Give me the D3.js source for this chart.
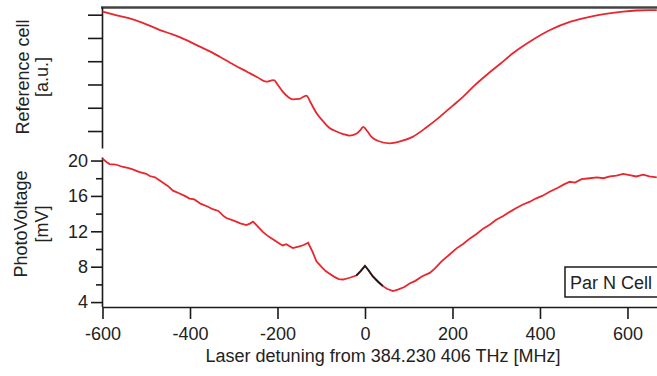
<!DOCTYPE html>
<html>
<head>
<meta charset="utf-8">
<script src="https://cdn.jsdelivr.net/npm/d3@7"></script>
<style>
  body { margin: 0; background: white; }
  text { font-family: "Liberation Sans", Arial, sans-serif; fill: #222; }
</style>
</head>
<body>
<div id="vis"></div>
<script>
// Data

// top panel: reference cell signal (arbitrary units)
const refX = [-600, -570, -540, -508, -470, -440, -417, -380, -350, -332, -300, -270, -245, -225, -215, -208,
    -200, -188, -175, -165, -150, -140, -134, -125, -111, -95, -81, -65, -50, -35, -20, -10, -4, 5, 15, 30,
    57, 80, 109, 140, 171, 200, 224, 250, 278, 310, 338, 380, 423, 470, 514, 550, 590, 620, 650, 667];
const refY = [5.13, 4.98, 4.85, 4.65, 4.35, 4.15, 3.98, 3.65, 3.38, 3.19, 2.85, 2.55, 2.3, 2.12, 2.17, 2.19,
    2.0, 1.69, 1.45, 1.36, 1.38, 1.48, 1.52, 1.25, 0.77, 0.4, 0.13, -0.02, -0.13, -0.2, -0.12, 0.05, 0.18, 0.0, -0.25, -0.43,
    -0.53, -0.45, -0.25, 0.15, 0.61, 1.08, 1.47, 1.95, 2.41, 2.9, 3.34, 3.88, 4.34, 4.7, 4.91, 5.03, 5.13, 5.18, 5.2, 5.2];

// bottom panel: photo voltage (mV)
const pvX = [-600, -590, -584, -570, -555, -540, -531, -515, -500, -492, -480, -465, -450, -439, -425, -412,
    -401, -390, -375, -360, -348, -335, -325, -317, -300, -285, -271, -262, -256, -248, -233, -220, -207,
    -195, -188, -180, -165, -150, -140, -130, -120, -111, -100, -90, -81, -70, -60, -50, -35, -20,
    -10, 0, 8, 18, 30, 41, 50, 64, 75, 90, 102, 115, 130, 148, 160, 175, 194, 210, 225, 240, 255, 270,
    285, 300, 315, 331, 345, 360, 377, 390, 405, 423, 440, 455, 468, 480, 495, 514, 530, 545, 560, 575,
    590, 605, 620, 636, 650, 667];
const pvY = [20.2, 19.8, 19.6, 19.55, 19.3, 19.15, 19.0, 18.7, 18.5, 18.25, 18.1, 17.6, 17.1, 16.6, 16.3, 16.0,
    15.7, 15.6, 15.1, 14.8, 14.5, 14.3, 13.8, 13.5, 13.2, 12.9, 12.7, 12.9, 13.1, 12.7, 11.9, 11.4, 11.0,
    10.6, 10.4, 10.55, 10.1, 10.3, 10.45, 10.7, 9.7, 8.6, 8.0, 7.5, 7.2, 6.85, 6.6, 6.55, 6.75, 7.0,
    7.5, 8.1, 7.6, 6.9, 6.3, 5.8, 5.5, 5.25, 5.4, 5.7, 6.1, 6.4, 6.9, 7.3, 7.8, 8.6, 9.4, 10.1, 10.6, 11.2, 11.7, 12.3,
    12.75, 13.3, 13.7, 14.2, 14.6, 15.0, 15.35, 15.7, 16.0, 16.5, 16.9, 17.3, 17.6, 17.5, 17.9, 18.0, 18.1, 18.0, 18.2, 18.3,
    18.5, 18.35, 18.2, 18.4, 18.2, 18.1];

// the black highlighted peak (sub-range of the same trace)
const peakRange = [-20, 41];

const xTicks = [-600, -400, -200, 0, 200, 400, 600];
const pvMajor = [4, 8, 12, 16, 20];
const pvMinor = [6, 10, 14, 18];
const refTicks = [0, 1, 2, 3, 4, 5];
const legendLabel = "Par N Cell";

const W = 657, H = 376;
const red = "#e8262e";
const ink = "#1a1a1a";

let svg = d3.select("#vis").append("svg")
    .attr("width", W)
    .attr("height", H);

// scales
const x = d3.scaleLinear().domain([-600, 667.5]).range([102.5, 657]);
const yRef = d3.scaleLinear().domain([-0.73, 5.33]).range([148, 7]);
const yPv = d3.scaleLinear().domain([3.5, 20.4]).range([306.5, 157]);

// plain hyphen for negatives, like the original
const plain = d => String(d);

// --- top panel ---
svg.append("line")
    .attr("x1", 101).attr("x2", W)
    .attr("y1", 7.5).attr("y2", 7.5)
    .attr("stroke", "#444")
    .attr("stroke-width", 2.5);

svg.append("g")
    .attr("transform", "translate(102,0)")
    .call(d3.axisLeft(yRef).tickValues(refTicks).tickSize(14).tickSizeOuter(0).tickFormat(""));

const refLine = d3.line()
    .x((d, i) => x(refX[i]))
    .y(d => yRef(d))
    .curve(d3.curveMonotoneX);

svg.append("path")
    .attr("d", refLine(refY))
    .attr("fill", "none")
    .attr("stroke", red)
    .attr("stroke-width", 1.8);

// --- bottom panel ---
svg.append("g")
    .attr("transform", "translate(102,0)")
    .call(d3.axisLeft(yPv).tickValues(pvMajor).tickSize(11).tickSizeOuter(0).tickPadding(3).tickFormat(plain));

svg.append("g")
    .attr("transform", "translate(102,0)")
    .call(d3.axisLeft(yPv).tickValues(pvMinor).tickSize(6).tickSizeOuter(0).tickFormat(""))
    .select(".domain").remove();

svg.append("g")
    .attr("transform", "translate(0,307)")
    .call(d3.axisBottom(x).tickValues(xTicks).tickSize(12).tickSizeOuter(0).tickPadding(8).tickFormat(plain));

// style all axes alike
svg.selectAll(".domain, .tick line")
    .attr("stroke", ink)
    .attr("stroke-width", 1.6);
svg.selectAll(".tick text")
    .attr("font-size", 18)
    .attr("fill", ink);

const pts = pvX.map((v, i) => ({ x: v, y: pvY[i] }));
const pvLine = d3.line().x(d => x(d.x)).y(d => yPv(d.y));

svg.append("path")
    .attr("d", pvLine(pts))
    .attr("fill", "none")
    .attr("stroke", red)
    .attr("stroke-width", 1.8);

svg.append("path")
    .attr("d", pvLine(pts.filter(d => d.x >= peakRange[0] && d.x <= peakRange[1])))
    .attr("fill", "none")
    .attr("stroke", ink)
    .attr("stroke-width", 1.8);

// legend box
svg.append("rect")
    .attr("x", 565).attr("y", 267)
    .attr("width", 110).attr("height", 30)
    .attr("fill", "white")
    .attr("stroke", ink)
    .attr("stroke-width", 1.5);

svg.append("text")
    .attr("x", 570).attr("y", 289)
    .attr("font-size", 18)
    .text(legendLabel);

// axis titles (two rotated lines each)
function yTitle(lines, cy) {
    lines.forEach(function (t) {
        svg.append("text")
            .attr("transform", "translate(" + t.bx + "," + cy + ") rotate(-90)")
            .attr("text-anchor", "middle")
            .attr("font-size", 18)
            .text(t.s);
    });
}
yTitle([{ s: "Reference cell", bx: 29 }, { s: "[a.u.]", bx: 48 }], 77);
yTitle([{ s: "PhotoVoltage", bx: 27 }, { s: "[mV]", bx: 48 }], 224);

svg.append("text")
    .attr("x", 383).attr("y", 362)
    .attr("text-anchor", "middle")
    .attr("font-size", 18)
    .text("Laser detuning from 384.230 406 THz [MHz]");
</script>
</body>
</html>
